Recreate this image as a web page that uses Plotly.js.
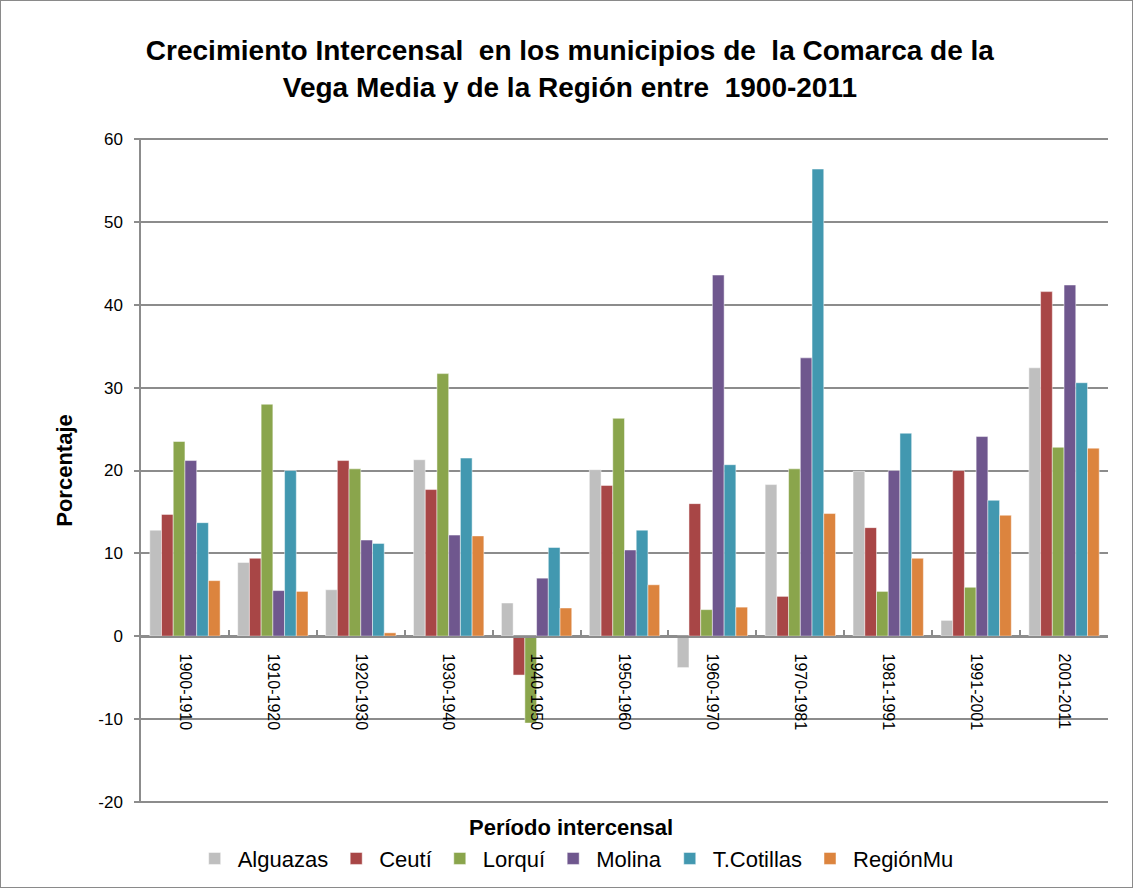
<!DOCTYPE html>
<html>
<head>
<meta charset="utf-8">
<script src="https://cdn.plot.ly/plotly-3.0.1.min.js"></script>
<style>
html,body{margin:0;padding:0;background:#fff;}
#chart{width:1131px;height:886px;border:1px solid #8a8a8a;}
</style>
</head>
<body>
<div id="chart"></div>
<script>
const periods = ["1900-1910","1910-1920","1920-1930","1930-1940","1940-1950","1950-1960","1960-1970","1970-1981","1981-1991","1991-2001","2001-2011"];
const alguazas  = [12.8, 8.9, 5.6, 21.3, 4.0, 20.1, -3.8, 18.3, 19.9, 1.9, 32.4];
const ceuti     = [14.7, 9.4, 21.2, 17.7, -4.7, 18.2, 16.0, 4.8, 13.1, 20.0, 41.6];
const lorqui    = [23.5, 28.0, 20.2, 31.7, -10.5, 26.3, 3.2, 20.2, 5.4, 5.9, 22.8];
const molina    = [21.2, 5.5, 11.6, 12.2, 7.0, 10.4, 43.6, 33.6, 20.0, 24.1, 42.4];
const tcotillas = [13.7, 20.0, 11.2, 21.5, 10.7, 12.8, 20.7, 56.4, 24.5, 16.4, 30.6];
const regionmu  = [6.7, 5.4, 0.4, 12.1, 3.4, 6.2, 3.5, 14.8, 9.4, 14.6, 22.7];

const seriesNames  = ["Alguazas","Ceutí","Lorquí","Molina","T.Cotillas","RegiónMu"];
const seriesValues = [alguazas, ceuti, lorqui, molina, tcotillas, regionmu];
const seriesColors = ["#BFBFBF","#A84646","#8AA54C","#6F578E","#4298B0","#DC843E"];

const yTickVals   = [-20, -10, 0, 10, 20, 30, 40, 50, 60];
const yTickLabels = ["-20", "-10", "0", "10", "20", "30", "40", "50", "60"];

const FONT = "Liberation Sans, Arial, sans-serif";

const traces = seriesNames.map((n, i) => ({
  type: "bar",
  name: n,
  x: periods,
  y: seriesValues[i],
  marker: {color: seriesColors[i], line: {color: "rgba(255,255,255,0.6)", width: 0.8}},
  hoverinfo: "x+y+name"
}));

const layout = {
  width: 1131, height: 886,
  paper_bgcolor: "#fff", plot_bgcolor: "#fff",
  margin: {l: 140, r: 24, t: 137, b: 84},
  font: {family: FONT, color: "#000"},
  title: {
    text: "<b>Crecimiento Intercensal  en los municipios de  la Comarca de la<br>Vega Media y de la Región entre  1900-2011</b>",
    font: {family: FONT, size: 28, color: "#000"},
    x: 0.503, xref: "container", xanchor: "center",
    y: 0.933, yref: "container", yanchor: "middle"
  },
  barmode: "group",
  bargap: 0.2,
  bargroupgap: 0,
  xaxis: {
    type: "category",
    anchor: "free",
    position: 0.2502,
    tickson: "boundaries",
    ticks: "inside",
    ticklen: 6,
    tickwidth: 1.5,
    tickcolor: "#8c8c8c",
    tickangle: 90,
    ticklabelstandoff: 13,
    tickfont: {family: FONT, size: 16, color: "#000"},
    showline: true,
    linecolor: "#8c8c8c",
    linewidth: 1.5,
    showgrid: false,
    zeroline: false,
    automargin: false
  },
  yaxis: {
    range: [-20.15, 60.15],
    tickmode: "array",
    tickvals: yTickVals,
    ticktext: yTickLabels,
    showgrid: true,
    gridcolor: "#8c8c8c",
    gridwidth: 1.5,
    showline: true,
    linecolor: "#8c8c8c",
    linewidth: 1.5,
    ticks: "outside",
    ticklen: 5,
    tickwidth: 1.5,
    tickcolor: "#8c8c8c",
    ticklabelstandoff: 8,
    tickfont: {family: FONT, size: 17, color: "#000"},
    zeroline: false,
    automargin: false,
    title: {text: "<b>Porcentaje</b>", font: {family: FONT, size: 22, color: "#000"}, standoff: 20}
  },
  showlegend: true,
  legend: {
    orientation: "h",
    x: 0.449, xanchor: "center",
    yref: "container", y: 0.032, yanchor: "middle",
    font: {family: FONT, size: 22, color: "#000"},
    itemwidth: 36,
    tracegroupgap: 0
  },
  annotations: [{
    text: "<b>Período intercensal</b>",
    xref: "paper", yref: "paper",
    x: 0.445, y: -0.037,
    xanchor: "center", yanchor: "middle",
    showarrow: false,
    font: {family: FONT, size: 22, color: "#000"}
  }]
};

Plotly.newPlot("chart", traces, layout, {displayModeBar: false});
</script>
</body>
</html>
